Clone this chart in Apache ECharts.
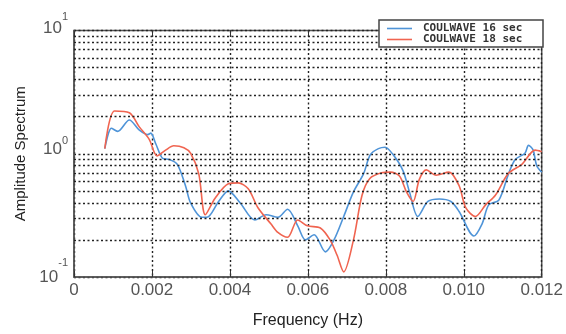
<!DOCTYPE html>
<html>
<head>
<meta charset="utf-8">
<script src="https://cdn.jsdelivr.net/npm/echarts@6/dist/echarts.min.js"></script>
<style>
  html, body { margin: 0; padding: 0; background: #fff; }
  #chart { width: 566px; height: 334px; }
</style>
</head>
<body>
<div id="chart"></div>
<script>
  // COULWAVE 16 sec (blue)
  const freq16 = [0.00079, 0.00096, 0.00112, 0.00142, 0.00167, 0.00189, 0.00197, 0.0021, 0.00227, 0.00244,
    0.00265, 0.00286, 0.00299, 0.00328, 0.00341, 0.00371, 0.00396, 0.00426, 0.00464, 0.00493,
    0.00523, 0.00548, 0.00574, 0.00594, 0.00616, 0.00645, 0.00667, 0.00692, 0.00717, 0.00743,
    0.0076, 0.00781, 0.00798, 0.00819, 0.00844, 0.00861, 0.00882, 0.00908, 0.00937, 0.00967,
    0.00988, 0.01026, 0.01047, 0.01064, 0.0109, 0.01115, 0.01132, 0.01157, 0.01166, 0.01178,
    0.01187, 0.012];
  const amp16 = [1.10, 1.61, 1.52, 1.88, 1.56, 1.43, 1.47, 1.20, 0.92, 0.90,
    0.82, 0.55, 0.40, 0.305, 0.305, 0.41, 0.50, 0.40, 0.29, 0.32,
    0.305, 0.355, 0.26, 0.20, 0.22, 0.16, 0.20, 0.31, 0.49, 0.69,
    0.98, 1.10, 1.13, 0.98, 0.73, 0.486, 0.31, 0.41, 0.43, 0.41,
    0.34, 0.215, 0.27, 0.385, 0.42, 0.69, 0.90, 1.01, 1.17, 1.07,
    0.80, 0.71];

  // COULWAVE 18 sec (red)
  const freq18 = [0.00079, 0.00104, 0.00142, 0.00167, 0.00193, 0.00213, 0.00235, 0.00256, 0.00282, 0.00299,
    0.0032, 0.00337, 0.00362, 0.00396, 0.00421, 0.00447, 0.00472, 0.00505, 0.00523, 0.00548,
    0.00574, 0.00599, 0.00632, 0.00657, 0.00675, 0.00692, 0.00717, 0.00739, 0.00759, 0.00789,
    0.00812, 0.00835, 0.00853, 0.0087, 0.00886, 0.00904, 0.00929, 0.00962, 0.00988, 0.01005,
    0.0103, 0.01056, 0.01081, 0.01114, 0.01149, 0.01183, 0.012];
  const amp18 = [1.10, 2.22, 2.15, 1.66, 1.31, 0.96, 1.07, 1.16, 1.12, 1.01,
    0.69, 0.32, 0.435, 0.57, 0.58, 0.52, 0.365, 0.27, 0.23, 0.21,
    0.29, 0.26, 0.25, 0.20, 0.15, 0.11, 0.20, 0.46, 0.63, 0.70,
    0.71, 0.66, 0.49, 0.41, 0.62, 0.74, 0.67, 0.71, 0.55, 0.365,
    0.31, 0.385, 0.46, 0.69, 0.82, 1.07, 1.04];

  const seriesNames = ['COULWAVE 16 sec', 'COULWAVE 18 sec'];
  // minor log grid lines (2..9 in each decade)
  const minorGrid = [0.2, 0.3, 0.4, 0.5, 0.6, 0.7, 0.8, 0.9, 2, 3, 4, 5, 6, 7, 8, 9];

  const dotted = { color: '#222', width: 1.4, type: [2, 2.5] };

  function pairs(xs, ys) {
    return xs.map((x, i) => [x, ys[i]]);
  }

  let myChart = echarts.init(document.getElementById('chart'));
  const option = {
    animation: false,
    textStyle: { fontFamily: 'Liberation Sans' },
    grid: {
      left: 74, right: 19, top: 14, bottom: 57,
      show: true, borderColor: '#555', borderWidth: 1.5
    },
    legend: {
      data: seriesNames,
      orient: 'vertical',
      right: 23, top: 20,
      z: 20,
      icon: 'rect',
      itemWidth: 25, itemHeight: 1.6, itemGap: 0,
      padding: [3, 14, 2, 8],
      backgroundColor: '#fff',
      borderColor: '#444', borderWidth: 1.5,
      textStyle: {
        fontFamily: 'DejaVu Sans Mono', fontWeight: 'bold', fontSize: 11,
        lineHeight: 11, width: 106, color: '#333', padding: [0, 0, 0, 6]
      }
    },
    xAxis: [{
      type: 'value',
      min: 0, max: 0.012, interval: 0.002,
      name: 'Frequency (Hz)',
      nameLocation: 'middle',
      nameGap: 36,
      nameTextStyle: { fontSize: 16, color: '#222' },
      axisLine: { lineStyle: { color: '#555', width: 1.5 } },
      axisTick: { inside: true, length: 6, lineStyle: { color: '#333' } },
      axisLabel: {
        fontSize: 17, color: '#555', margin: 5,
        formatter: v => (v === 0 ? '0' : v.toFixed(3))
      },
      splitLine: { show: true, lineStyle: dotted }
    }, {
      type: 'value',
      position: 'top',
      min: 0, max: 0.012, interval: 0.002,
      axisLine: { show: false },
      axisTick: { inside: true, length: 6, lineStyle: { color: '#333' } },
      axisLabel: { show: false },
      splitLine: { show: false }
    }],
    yAxis: {
      type: 'log',
      logBase: 10,
      min: 0.1, max: 10,
      name: 'Amplitude Spectrum',
      nameLocation: 'middle',
      nameGap: 46,
      nameTextStyle: { fontSize: 15, color: '#222' },
      axisLine: { lineStyle: { color: '#555', width: 1.5 } },
      axisTick: { show: false },
      axisLabel: {
        margin: 6, color: '#555',
        formatter: function (v) {
          const e = Math.round(Math.log10(v));
          if (e === 1) return '{t|10}{ts|1}';
          if (e === 0) return '{m|10}{ms|0}';
          return '{b|10}{bs|-1}';
        },
        // paddings move the top and middle labels as in the reference
        rich: {
          t: { fontSize: 17, lineHeight: 16, padding: [20, 0, 24, 0] },
          ts: { fontSize: 11, lineHeight: 12, padding: [10, 0, 38, 0] },
          m: { fontSize: 17, lineHeight: 16, padding: [18, 0, 26, 0] },
          ms: { fontSize: 11, lineHeight: 12, padding: [11, 0, 37, 0] },
          b: { fontSize: 17, lineHeight: 16, padding: [22, 0, 22, 0] },
          bs: { fontSize: 11, lineHeight: 12, padding: [10, 0, 38, 0] }
        }
      },
      splitLine: { show: true, lineStyle: dotted }
    },
    series: [{
      name: seriesNames[0],
      type: 'line',
      smooth: 0.3,
      symbol: 'none',
      color: '#4f94d8',
      lineStyle: { width: 1.6 },
      data: pairs(freq16, amp16),
      z: 3,
      markLine: {
        silent: true,
        symbol: 'none',
        label: { show: false },
        lineStyle: dotted,
        data: minorGrid.map(v => ({ yAxis: v }))
      }
    }, {
      name: seriesNames[1],
      type: 'line',
      smooth: 0.3,
      symbol: 'none',
      color: '#f06450',
      lineStyle: { width: 1.6 },
      data: pairs(freq18, amp18),
      z: 4
    }]
  };
  myChart.setOption(option);
</script>
</body>
</html>
